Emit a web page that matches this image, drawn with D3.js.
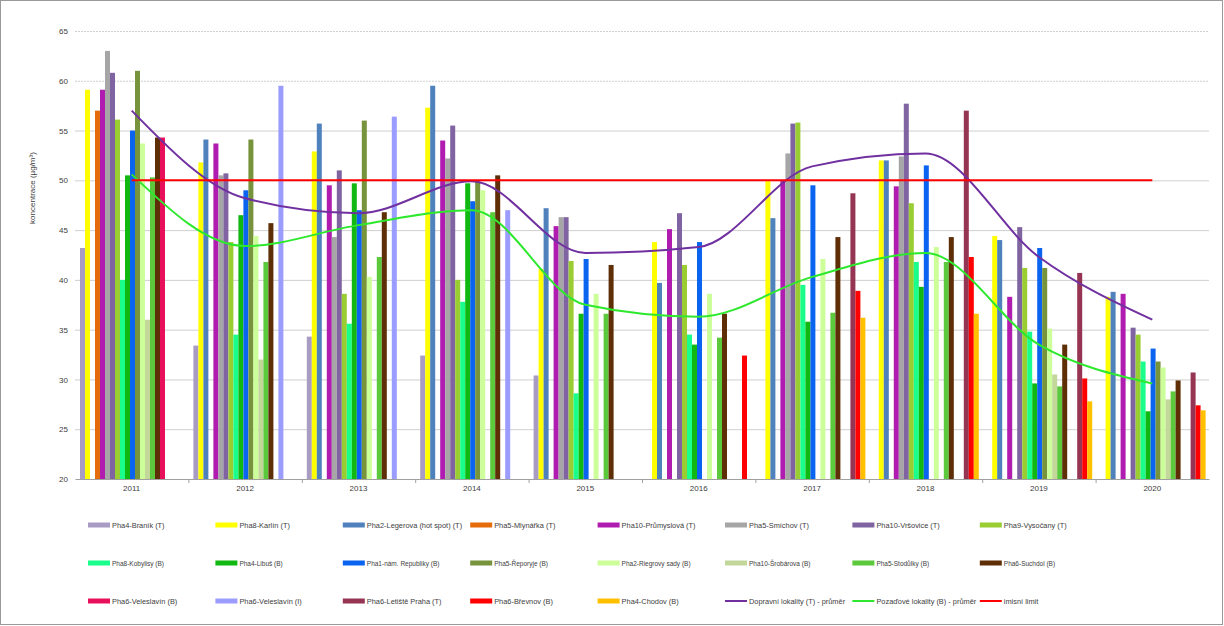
<!DOCTYPE html>
<html>
<head>
<meta charset="utf-8">
<script src="https://cdn.jsdelivr.net/npm/d3@7"></script>
<style>
  body { margin: 0; background: #fff; }
  svg { font-family: "Liberation Sans", Arial, sans-serif; }
</style>
</head>
<body>
<svg width="1224" height="626"></svg>
<script>
const years = ["2011", "2012", "2013", "2014", "2015", "2016", "2017", "2018", "2019", "2020"];

const seriesNames = [
  "Pha4-Braník (T)", "Pha8-Karlín (T)", "Pha2-Legerova (hot spot) (T)", "Pha5-Mlynářka (T)",
  "Pha10-Průmyslová (T)", "Pha5-Smíchov (T)", "Pha10-Vršovice (T)", "Pha9-Vysočany (T)",
  "Pha8-Kobylisy (B)", "Pha4-Libuš (B)", "Pha1-nám. Republiky (B)", "Pha5-Řeporyje (B)",
  "Pha2-Riegrovy sady (B)", "Pha10-Šrobárova (B)", "Pha5-Stodůlky (B)", "Pha6-Suchdol (B)",
  "Pha6-Veleslavín (B)", "Pha6-Veleslavín (I)", "Pha6-Letiště Praha (T)", "Pha6-Břevnov (B)",
  "Pha4-Chodov (B)"
];

// hodnoty po letech 2011..2020 (null = bez měření)
const branik     = [43.2, 33.4, 34.3, 32.4, 30.4, null, null, null, null, null];
const karlin     = [59.1, 51.8, 52.9, 57.3, 41.1, 43.8, 50.0, 52.0, 44.4, 38.3];
const legerova   = [null, 54.1, 55.7, 59.5, 47.2, 39.7, 46.2, 52.0, 44.0, 38.8];
const mlynarka   = [57.0, null, null, null, null, null, null, null, null, null];
const prumyslova = [59.1, 53.7, 49.5, 54.0, 45.4, 45.1, 50.0, 49.4, 38.3, 38.6];
const smichov    = [63.0, 50.5, 44.3, 52.2, 46.3, null, 52.7, 52.4, null, null];
const vrsovice   = [60.8, 50.7, 51.0, 55.5, 46.3, 46.7, 55.7, 57.7, 45.3, 35.2];
const vysocany   = [56.1, 43.8, 38.6, 40.0, 41.9, 41.5, 55.8, 47.7, 41.2, 34.5];
const kobylisy   = [40.0, 34.5, 35.6, 37.8, 28.6, 34.5, 39.5, 41.8, 34.8, 31.8];
const libus      = [50.5, 46.5, 49.7, 49.7, 36.6, 33.5, 35.8, 39.3, 29.6, 26.8];
const namRep     = [55.0, 49.0, 47.0, 47.9, 42.1, 43.8, 49.5, 51.5, 43.2, 33.1];
const reporyje   = [61.0, 54.1, 56.0, 49.9, null, null, null, null, 41.2, 31.8];
const riegrovy   = [53.7, 44.4, 40.3, 49.0, 38.6, 38.6, 42.1, 43.3, 35.1, 31.2];
const srobarova  = [36.0, 32.0, null, null, null, null, null, null, 30.5, 28.0];
const stodulky   = [50.3, 41.8, 42.3, 46.8, 36.6, 34.2, 36.7, 41.8, 29.3, 28.8];
const suchdol    = [54.3, 45.7, 46.8, 50.5, 41.5, 36.6, 44.3, 44.3, 33.5, 29.9];
const veleslavB  = [54.3, null, null, null, null, null, null, null, null, null];
const veleslavI  = [null, 59.5, 56.4, 47.0, null, null, null, null, null, null];
const letiste    = [null, null, null, null, null, null, 48.7, 57.0, 40.7, 30.7];
const brevnov    = [null, null, null, null, null, 32.4, 38.9, 42.3, 30.1, 27.4];
const chodov     = [null, null, null, null, null, null, 36.2, 36.6, 27.8, 26.9];

const dopravniPrumer = [57.0, 48.2, 46.7, 49.9, 42.7, 43.3, 51.4, 52.7, 42.3, 36.0];
const pozadovePrumer = [50.6, 43.4, 45.5, 47.0, 37.5, 36.3, 40.3, 42.7, 33.5, 29.6];
const imisniLimit    = [50, 50, 50, 50, 50, 50, 50, 50, 50, 50];

const lineNames = ["Dopravní lokality (T) - průměr", "Pozaďové lokality (B) - průměr", "imisní limit"];
const yTicks = [20, 25, 30, 35, 40, 45, 50, 55, 60, 65];

const barValues = [branik, karlin, legerova, mlynarka, prumyslova, smichov, vrsovice, vysocany,
  kobylisy, libus, namRep, reporyje, riegrovy, srobarova, stodulky, suchdol,
  veleslavB, veleslavI, letiste, brevnov, chodov];
const lineValues = [dopravniPrumer, pozadovePrumer, imisniLimit];

const barColors = ["#a99cc4", "#ffff00", "#4f81bd", "#e46c0a", "#b01cb0", "#a6a6a6", "#8064a2", "#9acd32",
  "#1aff8c", "#11b811", "#0a64f0", "#77933c", "#ccff99", "#c4d79b", "#5cc83c", "#5e2e06",
  "#e8105a", "#9c9cff", "#953553", "#ff0000", "#ffc000"];
const lineColors = ["#7030a0", "#2ee82e", "#ff0000"];

let svg = d3.select("svg");

const area = { left: 75, right: 1209, top: 31, bottom: 479 };

let scaleX = d3.scaleBand()
  .domain(years)
  .range([area.left, area.right]);

let scaleSub = d3.scaleBand()
  .domain(seriesNames)
  .range([5, 110]);

let scaleY = d3.scaleLinear()
  .domain([20, 65])
  .range([area.bottom, area.top]);

// mřížka
svg.append("g")
  .selectAll("line")
  .data(yTicks.filter(d => d > 20))
  .enter()
  .append("line")
  .attr("x1", area.left)
  .attr("x2", area.right)
  .attr("y1", d => scaleY(d) + 0.5)
  .attr("y2", d => scaleY(d) + 0.5)
  .style("stroke", "#cfcfcf")
  .style("stroke-dasharray", d => d >= 60 ? "2,1" : null)
  .style("stroke-width", 1);

// osa Y - jen popisky
let axisY = d3.axisLeft(scaleY).tickValues(yTicks).tickSize(0).tickPadding(7);
let gY = svg.append("g")
  .attr("transform", `translate(${area.left}, 0)`)
  .call(axisY);
gY.select(".domain").remove();
gY.selectAll("text").style("font-size", "8px").style("fill", "#404040");

svg.append("text")
  .attr("transform", `translate(35, 188) rotate(-90)`)
  .attr("text-anchor", "middle")
  .style("font-size", "8px")
  .style("fill", "#404040")
  .text("koncentrace (µg/m³)");

// sloupce
const bars = [];
barValues.forEach((vals, si) => {
  vals.forEach((v, yi) => {
    if (v != null) bars.push({ serie: seriesNames[si], year: years[yi], value: v, color: barColors[si] });
  });
});

svg.append("g")
  .selectAll("rect")
  .data(bars)
  .enter()
  .append("rect")
  .attr("x", d => scaleX(d.year) + scaleSub(d.serie))
  .attr("y", d => scaleY(d.value))
  .attr("width", scaleSub.bandwidth())
  .attr("height", d => scaleY(20) - scaleY(d.value))
  .style("fill", d => d.color);

// osa X
let axisX = d3.axisBottom(scaleX).tickSize(0).tickPadding(6);
let gX = svg.append("g")
  .attr("transform", `translate(0, ${area.bottom})`)
  .call(axisX);
gX.select(".domain").style("stroke", "#a0a0a0");
gX.selectAll("text").style("font-size", "8px").style("fill", "#404040");
gX.selectAll(".sep")
  .data(years.slice(1))
  .enter()
  .append("line")
  .attr("x1", d => scaleX(d) + 0.5)
  .attr("x2", d => scaleX(d) + 0.5)
  .attr("y1", 0)
  .attr("y2", 4)
  .style("stroke", "#a0a0a0");

// čáry
const lineGenerator = d3.line()
  .x((d, i) => scaleX(years[i]) + scaleX.bandwidth() / 2)
  .y(d => scaleY(d))
  .curve(d3.curveMonotoneX);

lineValues.forEach((vals, i) => {
  svg.append("path")
    .datum(vals)
    .attr("d", lineGenerator)
    .style("fill", "none")
    .style("stroke", lineColors[i])
    .style("stroke-width", 2);
});

// legenda
const legendItems = seriesNames.map((n, i) => ({ name: n, color: barColors[i], type: "bar" }))
  .concat(lineNames.map((n, i) => ({ name: n, color: lineColors[i], type: "line" })));

let legend = svg.append("g");
legendItems.forEach((d, i) => {
  const col = i % 8, row = Math.floor(i / 8);
  const x = 88 + col * 127.4;
  const y = 525 + row * 38;
  if (d.type == "bar") {
    legend.append("rect")
      .attr("x", x).attr("y", y - 2.5)
      .attr("width", 22).attr("height", 5)
      .style("fill", d.color);
  } else {
    legend.append("line")
      .attr("x1", x).attr("x2", x + 22)
      .attr("y1", y).attr("y2", y)
      .style("stroke", d.color)
      .style("stroke-width", 2);
  }
  legend.append("text")
    .attr("x", x + 24)
    .attr("y", y + 3)
    .style("font-size", row == 1 ? "6.5px" : "7.4px")
    .style("fill", "#404040")
    .text(d.name);
});

// rámeček grafu
svg.append("rect")
  .attr("x", 0.5).attr("y", 0.5)
  .attr("width", 1222).attr("height", 624)
  .style("fill", "none")
  .style("stroke", "#9a9a9a");
</script>
</body>
</html>
